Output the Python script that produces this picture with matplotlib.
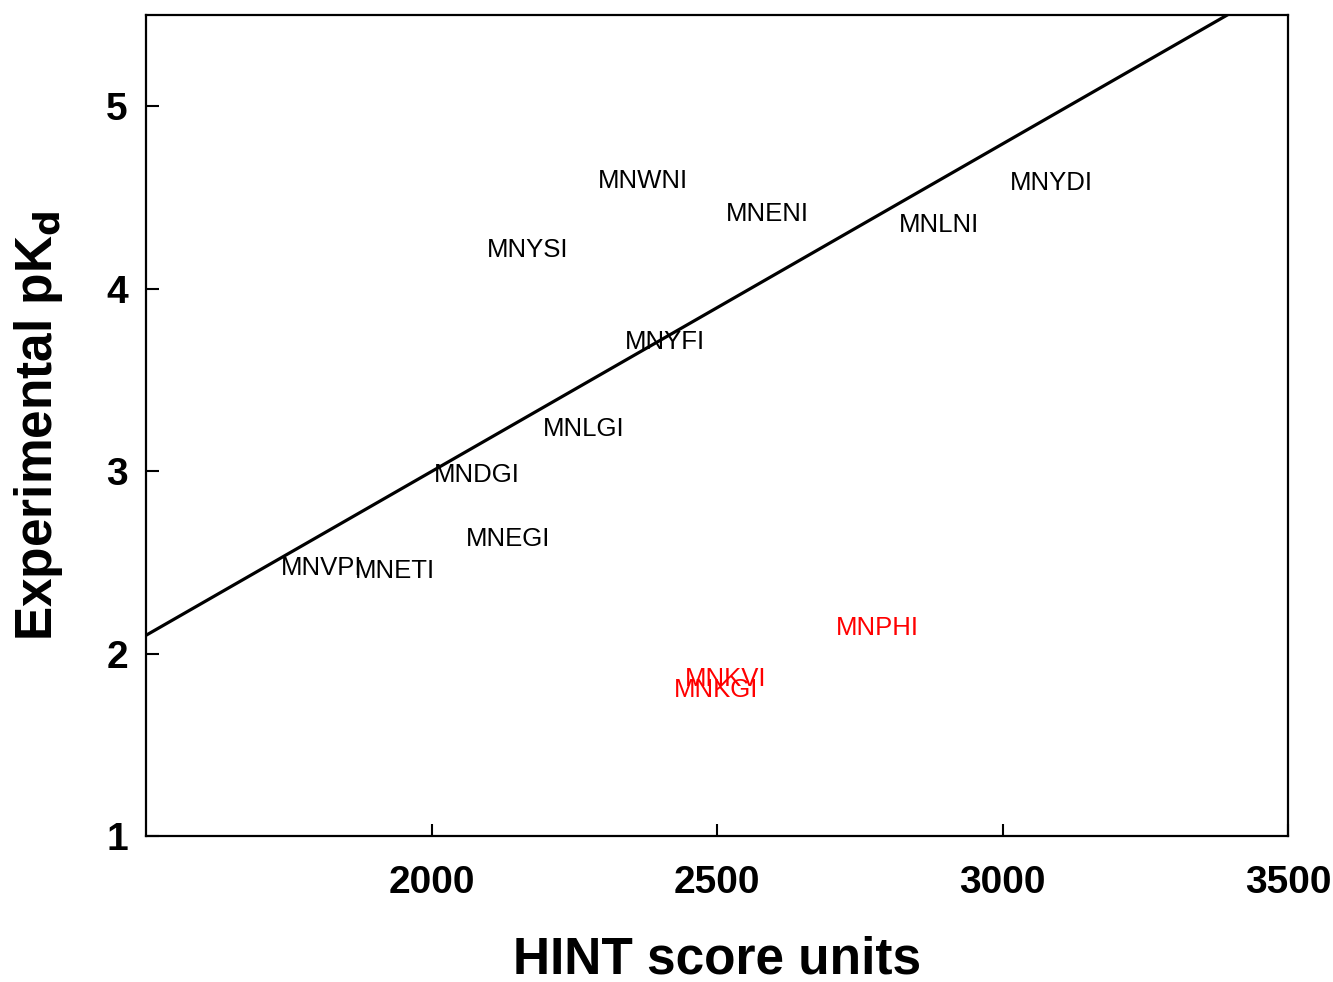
import matplotlib
matplotlib.use("Agg")
import matplotlib.pyplot as plt
import numpy as np

plt.rcParams['font.family'] = ['Liberation Sans', 'DejaVu Sans']

names = ["MNWNI", "MNENI", "MNYSI", "MNYDI", "MNLNI", "MNYFI", "MNLGI",
         "MNDGI", "MNEGI", "MNVPI", "MNETI", "MNPHI", "MNKVI", "MNKGI"]
hint = [2370, 2588, 2168, 3086, 2888, 2408, 2267,
        2079, 2134, 1808, 1936, 2781, 2515, 2499]
pkd = [4.59, 4.41, 4.21, 4.58, 4.35, 3.71, 3.23,
       2.98, 2.63, 2.47, 2.45, 2.14, 1.86, 1.80]
outlier = [False]*11 + [True]*3

fit_x = [1500, 3500]
fit_intercept = 2.1
fit_slope = 0.0017955

fig = plt.figure(figsize=(13.33, 9.82), dpi=100)
ax = fig.add_axes([146/1333, 1-836/982, (1288-146)/1333, (836-15)/982])

xs = np.array(fit_x, dtype=float)
ax.plot(xs, fit_intercept + fit_slope*(xs-1500), color='black', lw=2.3)

for n, x, y, o in zip(names, hint, pkd, outlier):
    ax.text(x, y, n, ha='center', va='center', fontsize=18.5,
            color='red' if o else 'black')

ax.set_xlim(1500, 3500)
ax.set_ylim(1, 5.5)
ax.set_xticks([2000, 2500, 3000, 3500])
ax.set_yticks([1, 2, 3, 4, 5])
ax.tick_params(direction='in', length=9, width=1.5, labelsize=28)
ax.tick_params(axis='x', pad=21)
ax.tick_params(axis='y', pad=13)
for lab in ax.get_xticklabels() + ax.get_yticklabels():
    lab.set_fontweight('bold')
for s in ax.spines.values():
    s.set_linewidth(1.6)

ax.set_xlabel("HINT score units", fontsize=37, fontweight='bold', labelpad=25)
ax.set_ylabel(r"Experimental pK$_\mathbf{d}$", fontsize=37, fontweight='bold', labelpad=30)

fig.savefig("out.png", dpi=100)
